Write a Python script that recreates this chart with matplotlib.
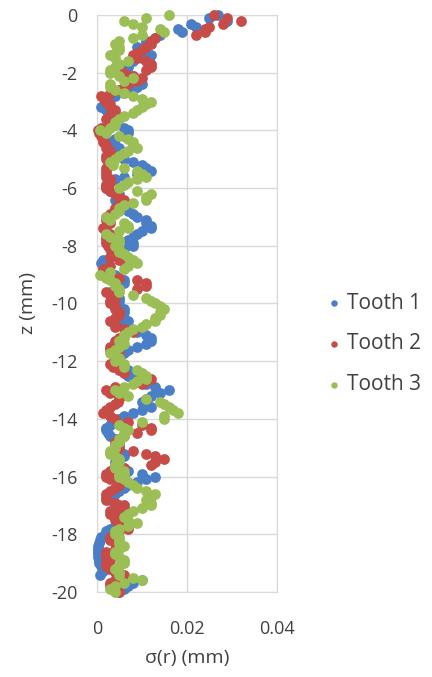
import matplotlib

matplotlib.use("Agg")
import matplotlib.pyplot as plt
import numpy as np

plt.rcParams["font.family"] = ["Open Sans", "DejaVu Sans"]
plt.rcParams["axes.unicode_minus"] = False

# depth below surface, mm (same sampling for all three teeth)
z_mm = [
    0.0, -0.1, -0.2, -0.3, -0.4, -0.5, -0.6, -0.7, -0.8, -0.9,
    -1.0, -1.1, -1.2, -1.3, -1.4, -1.5, -1.6, -1.7, -1.8, -1.9,
    -2.0, -2.1, -2.2, -2.3, -2.4, -2.5, -2.6, -2.7, -2.8, -2.9,
    -3.0, -3.1, -3.2, -3.3, -3.4, -3.5, -3.6, -3.7, -3.8, -3.9,
    -4.0, -4.1, -4.2, -4.3, -4.4, -4.5, -4.6, -4.7, -4.8, -4.9,
    -5.0, -5.1, -5.2, -5.3, -5.4, -5.5, -5.6, -5.7, -5.8, -5.9,
    -6.0, -6.1, -6.2, -6.3, -6.4, -6.5, -6.6, -6.7, -6.8, -6.9,
    -7.0, -7.1, -7.2, -7.3, -7.4, -7.5, -7.6, -7.7, -7.8, -7.9,
    -8.0, -8.1, -8.2, -8.3, -8.4, -8.5, -8.6, -8.7, -8.8, -8.9,
    -9.0, -9.1, -9.2, -9.3, -9.4, -9.5, -9.6, -9.7, -9.8, -9.9,
    -10.0, -10.1, -10.2, -10.3, -10.4, -10.5, -10.6, -10.7, -10.8, -10.9,
    -11.0, -11.1, -11.2, -11.3, -11.4, -11.5, -11.6, -11.7, -11.8, -11.9,
    -12.0, -12.1, -12.2, -12.3, -12.4, -12.5, -12.6, -12.7, -12.8, -12.9,
    -13.0, -13.1, -13.2, -13.3, -13.4, -13.5, -13.6, -13.7, -13.8, -13.9,
    -14.0, -14.1, -14.2, -14.3, -14.4, -14.5, -14.6, -14.7, -14.8, -14.9,
    -15.0, -15.1, -15.2, -15.3, -15.4, -15.5, -15.6, -15.7, -15.8, -15.9,
    -16.0, -16.1, -16.2, -16.3, -16.4, -16.5, -16.6, -16.7, -16.8, -16.9,
    -17.0, -17.1, -17.2, -17.3, -17.4, -17.5, -17.6, -17.7, -17.8, -17.9,
    -18.0, -18.1, -18.2, -18.3, -18.4, -18.5, -18.6, -18.7, -18.8, -18.9,
    -19.0, -19.1, -19.2, -19.3, -19.4, -19.5, -19.6, -19.7, -19.8, -19.9,
    -20.0,
]

# sigma(r) in micrometres (one row per mm of depth)
tooth1_um = [
    27, 25, 29, 21, 22, 18, 19, 14, 13, 11,
    11, 9, 10, 11, 12, 10, 8, 7, 7, 5,
    6, 8, 7, 9, 10, 9, 8, 6, 4, 3,
    2, 1.5, 1, 2, 3, 4, 5, 4, 4, 6,
    7, 7, 6, 4, 3, 4, 5, 5, 4, 5,
    6, 8, 10, 11, 12, 9, 6, 4, 3, 2,
    2, 3, 5, 5, 4, 5, 6, 6, 7, 8,
    9, 11, 11, 12, 12, 10, 9, 8, 7, 8,
    8, 6, 5, 4, 3, 1.3, 1, 1.5, 2, 3,
    4, 5, 6, 6, 5, 4, 3, 4, 5, 5,
    4, 5, 6, 6, 5, 6, 7, 6, 6, 7,
    9, 11, 12, 12, 11, 9, 7, 6, 5, 5,
    4, 5, 6, 7, 7, 7, 8, 10, 11, 13,
    16, 14, 12, 11, 10, 11, 12, 10, 8, 6,
    5, 4, 3, 2, 2, 2.5, 3, 4, 5, 5,
    4, 5, 6, 6, 5, 4, 4, 6, 7, 10,
    13, 11, 9, 7, 6, 5, 4, 3, 3, 4,
    5, 6, 6, 5, 4, 5, 5, 4, 3, 2,
    2, 1, 0.6, 0.4, 0.3, 0.2, 0.2, 0.3, 0.3, 0.4,
    0.5, 1, 2, 1.2, 0.7, 5, 10, 8, 7, 6,
    5,
]
tooth2_um = [
    26, 29, 32, 28, 25, 24, 24, 22, 13, 12,
    12, 11, 10, 9, 8, 9, 11, 12, 12, 11,
    6, 8, 10, 9, 7, 6, 5, 3, 1, 1.5,
    2, 3, 3, 4, 4, 3, 2, 3, 3, 1,
    0.3, 0.5, 1, 1.4, 1.4, 2, 2, 3, 3, 2,
    2, 3, 3, 2, 2, 2, 2, 3, 3, 2,
    2, 3, 4, 5, 6, 5, 5, 4, 4, 3,
    2, 2, 3, 2, 1.3, 2, 3, 2, 2, 2,
    2.4, 3, 4, 4, 3, 5, 6, 3, 1.3, 2,
    3, 5, 9, 11, 11, 9, 2, 3, 4, 3,
    3, 4, 4, 5, 5, 4, 3, 4, 4, 6,
    8, 6, 5, 4, 4, 3, 3, 4, 5, 4,
    4, 3, 3.6, 5, 6, 10, 12, 11, 10, 4,
    2, 3, 5, 5, 4.7, 4, 3, 2, 1.3, 3,
    4, 7, 10, 12, 12, 9, 6, 5, 4, 4,
    5, 8, 11, 13, 15, 13, 12, 6, 3, 2,
    2, 3, 5, 5, 4, 3, 2, 2, 2, 4,
    6, 5, 3, 3, 4, 4, 5, 6, 7, 5,
    4, 3, 3, 4, 5, 4, 2, 2, 2, 3,
    2, 2, 3, 4, 6, 5, 4, 3, 3, 4,
    5,
]
tooth3_um = [
    16, 11, 6, 8, 10, 14, 15, 10, 8, 5,
    4, 5, 5, 4, 3, 4, 7, 5, 4, 3,
    3, 5, 8, 6, 3, 3, 4, 6, 8, 10,
    12, 11, 10, 9, 8, 6, 5, 4, 4, 3,
    0.7, 2, 5, 7, 8, 8, 9, 7, 6, 5,
    4, 3, 3.6, 6, 9, 10, 11, 9, 7, 6,
    5, 9, 12, 11, 11, 8, 6, 5, 5, 4,
    2, 3, 6, 7, 7, 5, 2, 3, 5, 5,
    4, 5, 5, 6, 7, 8, 9, 7, 6, 3,
    0.7, 2, 3, 4, 4, 5, 5, 8, 11, 12,
    13, 14, 15, 14, 14, 13, 13, 11, 10, 8,
    7, 6, 6, 5, 6, 5, 4, 3, 4, 5,
    4, 6, 6, 9, 10, 11, 11, 9, 8, 6,
    4, 5, 7, 11, 14, 15, 16, 17, 18, 15,
    15, 10, 5, 6, 7, 6, 6, 5, 5, 4,
    4, 3, 3, 4, 5, 5, 4, 4, 6, 6,
    5, 6, 7, 8, 9, 11, 13, 12, 11, 12,
    12, 10, 8, 7, 6, 7, 9, 7, 5, 4,
    4, 5, 5, 5, 6, 5, 4, 4, 5, 6,
    6, 5, 4, 5, 5, 8, 10, 6, 4, 3,
    4,
]

series_names = ["Tooth 1", "Tooth 2", "Tooth 3"]
series_colors = ["#4A7EC7", "#C74B47", "#9BBE55"]
x_ticks = [0, 0.02, 0.04]
x_tick_labels = ["0", "0.02", "0.04"]
y_ticks = [0, -2, -4, -6, -8, -10, -12, -14, -16, -18, -20]

fig = plt.figure(figsize=(4.32, 6.77), dpi=100)
ax = fig.add_axes([0.2245, 0.1256, 0.4167, 0.8522])

for values, name, color in zip([tooth1_um, tooth2_um, tooth3_um], series_names, series_colors):
    sigma = np.asarray(values) / 1000.0
    ax.scatter(sigma, z_mm, s=60, color=color, label=name, linewidths=0, clip_on=False, zorder=3)

ax.set_xlim(0, 0.04)
ax.set_ylim(-20, 0)
ax.set_xticks(x_ticks)
ax.set_xticklabels(x_tick_labels)
ax.set_yticks(y_ticks)
ax.tick_params(length=0, labelsize=13, colors="#404040", pad=14)
ax.tick_params(axis="x", pad=20)
ax.grid(color="#D9D9D9", linewidth=1)
ax.set_axisbelow(True)
for spine in ax.spines.values():
    spine.set_color("#D9D9D9")

ax.set_xlabel("σ(r) (mm)", fontsize=14, color="#404040", labelpad=8)
ax.set_ylabel("z (mm)", fontsize=14, color="#404040", labelpad=10)

ax.legend(
    loc="center left",
    bbox_to_anchor=(1.16, 0.43),
    frameon=False,
    fontsize=15,
    markerscale=0.6,
    handlelength=0.9,
    handletextpad=0.2,
    labelspacing=0.95,
    labelcolor="#404040",
)

fig.savefig("out.png", dpi=100)
